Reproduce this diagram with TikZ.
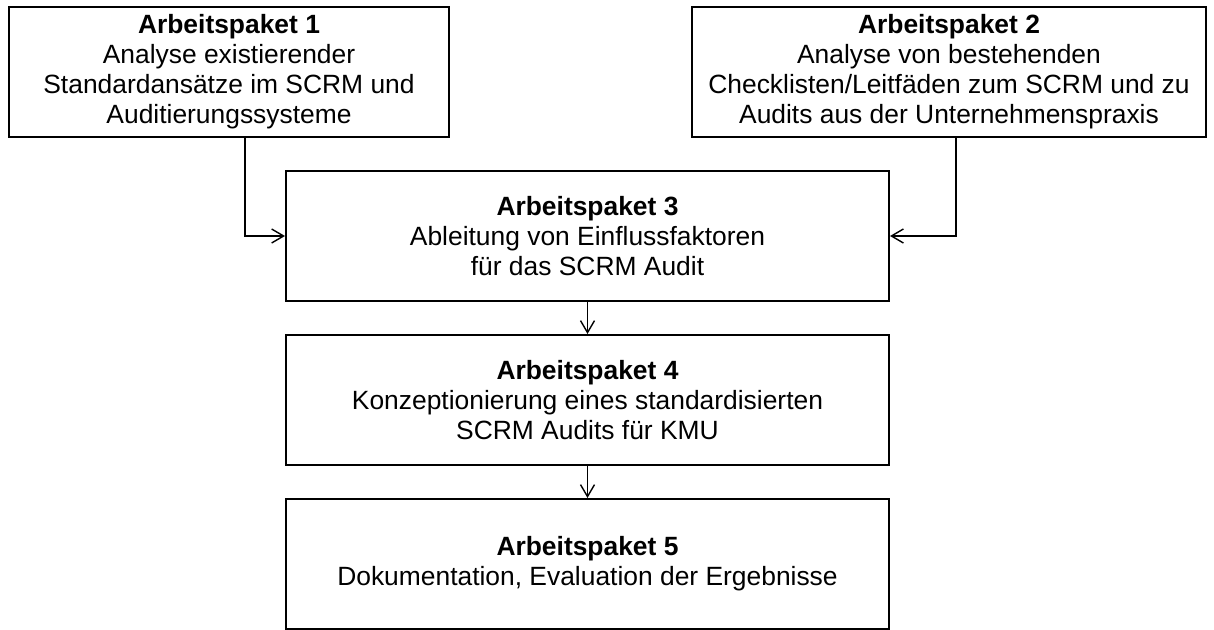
\documentclass[tikz,border=0pt]{standalone}
\usepackage{fontspec}
\setmainfont{Liberation Sans}
\usetikzlibrary{positioning, arrows.meta}
\tikzstyle{paket} = [rectangle,draw,line width=1pt,align=center,minimum height=65pt,font=\fontsize{13.2pt}{15pt}\selectfont]
\tikzstyle{pfeil} = [line width=.7pt,-{Straight Barb[length=6pt,width=7pt]}]

\begin{document}
\begin{tikzpicture}[x=.5pt,y=-.5pt,node distance=16pt]
\useasboundingbox (0,0) rectangle (1214,630);
\node [paket,minimum width=220pt](ap1) at (229,72){\textbf{Arbeitspaket 1}\\Analyse existierender\\Standardansätze im SCRM und\\Auditierungssysteme};
\node [paket,minimum width=257pt](ap2) at (949,72){\textbf{Arbeitspaket 2}\\Analyse von bestehenden\\Checklisten/Leitfäden zum SCRM und zu\\Audits aus der Unternehmenspraxis};
\node [paket,minimum width=301.5pt](ap3) at (587.5,236){\textbf{Arbeitspaket 3}\\Ableitung von Einflussfaktoren\\für das SCRM Audit};
\node [paket,minimum width=301.5pt,below=of ap3](ap4){\textbf{Arbeitspaket 4}\\Konzeptionierung eines standardisierten\\SCRM Audits für KMU};
\node [paket,minimum width=301.5pt,below=of ap4](ap5){\textbf{Arbeitspaket 5}\\Dokumentation, Evaluation der Ergebnisse};

\draw[pfeil]([xshift=8pt]ap1.south) |- (ap3.west);
\draw[pfeil]([xshift=3.5pt]ap2.south) |- (ap3.east);
\draw[pfeil](ap3)--(ap4);
\draw[pfeil](ap4)--(ap5);

\end{tikzpicture}
\end{document}
